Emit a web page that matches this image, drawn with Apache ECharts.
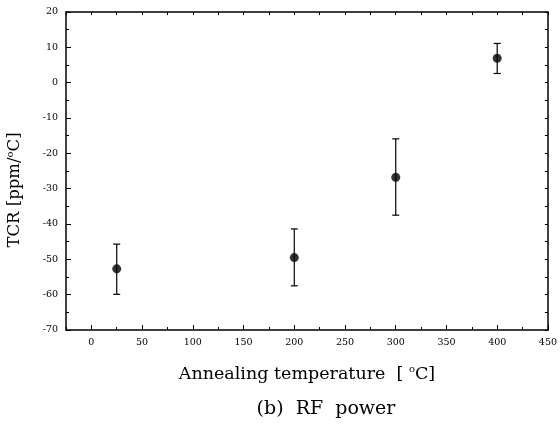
<!DOCTYPE html>
<html><head><meta charset="utf-8">
<script src="https://cdn.jsdelivr.net/npm/echarts@6/dist/echarts.min.js"></script>
<style>html,body{margin:0;padding:0;background:#fff}#c{width:560px;height:426px}</style>
</head><body><div id="c"></div>
<script>
const temperatures = [25, 200, 300, 400];
const tcrValues = [-52.7, -49.5, -26.8, 6.9];
const errLow = [-59.9, -57.5, -37.5, 2.6];
const errHigh = [-45.7, -41.4, -15.9, 11.1];
const xTickLabels = [0, 50, 100, 150, 200, 250, 300, 350, 400, 450];

const font = '"DejaVu Serif", serif';
const black = '#000';
const chart = echarts.init(document.getElementById('c'));
const line = {show: true, onZero: false, lineStyle: {color: black, width: 1.5}};
const noLine = {show: false, onZero: false};
const supRich = {s: {fontSize: 10, verticalAlign: 'top', padding: [0, 0, 10, 0], fontFamily: font, color: black}};

chart.setOption({
  animation: false,
  grid: {left: 66, top: 12, right: 9, bottom: 96},
  xAxis: [
    {type: 'value', position: 'bottom', min: -25, max: 450,
      axisLine: line, splitLine: {show: false},
      axisLabel: {color: black, fontFamily: font, fontSize: 9.5, margin: 8, customValues: xTickLabels},
      axisTick: {inside: true, length: 5, lineStyle: {color: black}, customValues: xTickLabels},
      name: 'Annealing temperature  [ {s|o}C]', nameLocation: 'middle', nameGap: 34,
      nameTextStyle: {color: black, fontFamily: font, fontSize: 17.5, rich: supRich}},
    {type: 'value', position: 'bottom', min: -25, max: 450, interval: 25,
      axisLine: noLine, splitLine: {show: false}, axisLabel: {show: false},
      axisTick: {show: true, inside: true, length: 3, lineStyle: {color: black}}},
    {type: 'value', position: 'top', min: -25, max: 450, interval: 25,
      axisLine: line, splitLine: {show: false}, axisLabel: {show: false},
      axisTick: {show: true, inside: true, length: 3, lineStyle: {color: black}}}
  ],
  yAxis: [
    {type: 'value', position: 'left', min: -70, max: 20, interval: 10,
      axisLine: line, splitLine: {show: false},
      axisTick: {show: true, inside: true, length: 5, lineStyle: {color: black}},
      minorTick: {show: true, splitNumber: 2, length: 3, lineStyle: {color: black}},
      axisLabel: {color: black, fontFamily: font, fontSize: 9.5, margin: 8}},
    {type: 'value', position: 'right', min: -70, max: 20, interval: 5,
      axisLine: line, splitLine: {show: false}, axisLabel: {show: false},
      axisTick: {show: true, inside: true, length: 3, lineStyle: {color: black}}}
  ],
  graphic: [
    {type: 'text', x: 15, y: 190, rotation: Math.PI / 2,
      style: {text: 'TCR [ppm/{s|o}C]', fill: black, font: '16.5px ' + font,
        align: 'center', verticalAlign: 'middle', rich: supRich}},
    {type: 'text', x: 326, y: 409,
      style: {text: '(b)  RF  power', fill: black, font: '19px ' + font,
        align: 'center', verticalAlign: 'middle'}}
  ],
  series: [
    {type: 'custom', xAxisIndex: 0, yAxisIndex: 0,
      data: temperatures.map((t, i) => [t, errLow[i], errHigh[i]]),
      renderItem: function (params, api) {
        const lo = api.coord([api.value(0), api.value(1)]);
        const hi = api.coord([api.value(0), api.value(2)]);
        const w = 3.5;
        const st = {stroke: black, lineWidth: 1.2};
        return {type: 'group', children: [
          {type: 'line', shape: {x1: lo[0], y1: lo[1], x2: hi[0], y2: hi[1]}, style: st},
          {type: 'line', shape: {x1: lo[0] - w, y1: lo[1], x2: lo[0] + w, y2: lo[1]}, style: st},
          {type: 'line', shape: {x1: hi[0] - w, y1: hi[1], x2: hi[0] + w, y2: hi[1]}, style: st}
        ]};
      }, z: 2},
    {type: 'scatter', xAxisIndex: 0, yAxisIndex: 0, symbol: 'circle', symbolSize: 9,
      itemStyle: {color: black},
      data: temperatures.map((t, i) => [t, tcrValues[i]]), z: 3}
  ]
});
</script></body></html>
